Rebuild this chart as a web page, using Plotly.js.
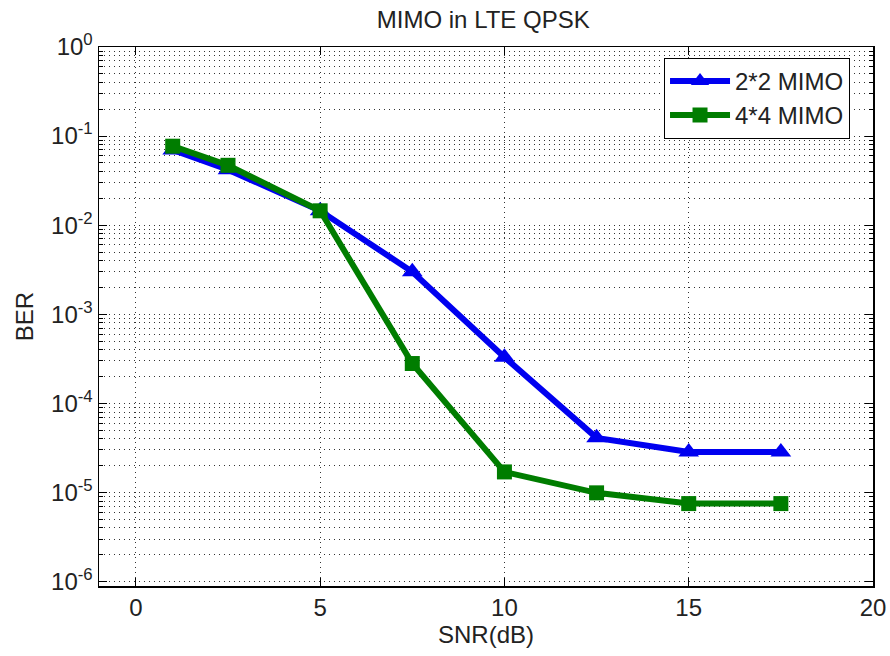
<!DOCTYPE html>
<html>
<head>
<meta charset="utf-8">
<script src="https://cdn.plot.ly/plotly-3.0.1.min.js"></script>
<style>html,body{margin:0;padding:0;background:#fff;}#chart{width:890px;height:656px;}</style>
</head>
<body>
<div id="chart"></div>
<script>
const snr = [1, 2.5, 5, 7.5, 10, 12.5, 15, 17.5];
const ber22 = [0.070, 0.042, 0.0145, 0.0030, 3.3e-4, 4.1e-5, 2.85e-5, 2.85e-5];
const ber44 = [0.077, 0.047, 0.0145, 2.8e-4, 1.7e-5, 9.9e-6, 7.5e-6, 7.5e-6];
const xTicks = [0, 5, 10, 15, 20];
const yTickVals = [1e-6, 1e-5, 1e-4, 1e-3, 1e-2, 1e-1, 1];
const yTickText = ['10<sup>-6</sup>', '10<sup>-5</sup>', '10<sup>-4</sup>', '10<sup>-3</sup>', '10<sup>-2</sup>', '10<sup>-1</sup>', '10<sup>0</sup>'];
const seriesNames = ['2*2 MIMO', '4*4 MIMO'];

const minorVals = [];
for (let e = -6; e < 0; e++) {
  for (let m = 2; m <= 9; m++) minorVals.push(m * Math.pow(10, e));
}

const font = {family: '"Liberation Sans", Arial, sans-serif', size: 24, color: '#222'};
const gridDash = '1px,4px';

const traces = [
  {x: snr, y: ber22, name: seriesNames[0], mode: 'lines+markers', type: 'scatter',
   line: {color: 'rgb(0,0,240)', width: 6},
   marker: {symbol: 'triangle-up', size: 18, color: 'rgb(0,0,240)'}},
  {x: snr, y: ber44, name: seriesNames[1], mode: 'lines+markers', type: 'scatter',
   line: {color: 'rgb(0,125,0)', width: 6},
   marker: {symbol: 'square', size: 15, color: 'rgb(0,125,0)'}}
];

const layout = {
  width: 890, height: 656,
  margin: {l: 99, r: 17, t: 47, b: 70},
  paper_bgcolor: '#fff', plot_bgcolor: '#fff',
  font: font,
  showlegend: true,
  title: {text: 'MIMO in LTE QPSK', font: {family: font.family, size: 24, color: '#222'},
          x: 0.543, xanchor: 'center', y: 0.958, yanchor: 'bottom'},
  xaxis: {
    range: [-1, 20], tickmode: 'array', tickvals: xTicks,
    ticks: 'inside', ticklen: 8, tickwidth: 1, tickcolor: '#000',
    showline: true, linecolor: '#000', linewidth: 1.5, mirror: 'ticks',
    showgrid: true, gridcolor: '#333', gridwidth: 1, griddash: gridDash,
    zeroline: false,
    tickfont: {family: font.family, size: 24, color: '#222'},
    title: {text: 'SNR(dB)', font: {family: font.family, size: 24, color: '#222'}, standoff: 6}
  },
  yaxis: {
    type: 'log', range: [-6.05, 0],
    tickmode: 'array', tickvals: yTickVals, ticktext: yTickText,
    ticks: 'inside', ticklen: 8, tickwidth: 1, tickcolor: '#000',
    showline: true, linecolor: '#000', linewidth: 1.5, mirror: 'ticks',
    showgrid: true, gridcolor: '#333', gridwidth: 1, griddash: gridDash,
    zeroline: false,
    tickfont: {family: font.family, size: 24, color: '#222'},
    minor: {tickmode: 'array', tickvals: minorVals, ticks: 'inside', ticklen: 4,
            tickcolor: '#000', showgrid: true, gridcolor: '#333', gridwidth: 1, griddash: gridDash},
    title: {text: 'BER', font: {family: font.family, size: 24, color: '#222'}, standoff: 10}
  },
  legend: {
    x: 0.73, y: 0.98, xanchor: 'left', yanchor: 'top',
    bgcolor: '#fff', bordercolor: '#000', borderwidth: 1,
    font: {family: font.family, size: 24, color: '#222'},
    itemwidth: 60, tracegroupgap: 0
  }
};

Plotly.newPlot('chart', traces, layout, {displayModeBar: false, staticPlot: true});
</script>
</body>
</html>
